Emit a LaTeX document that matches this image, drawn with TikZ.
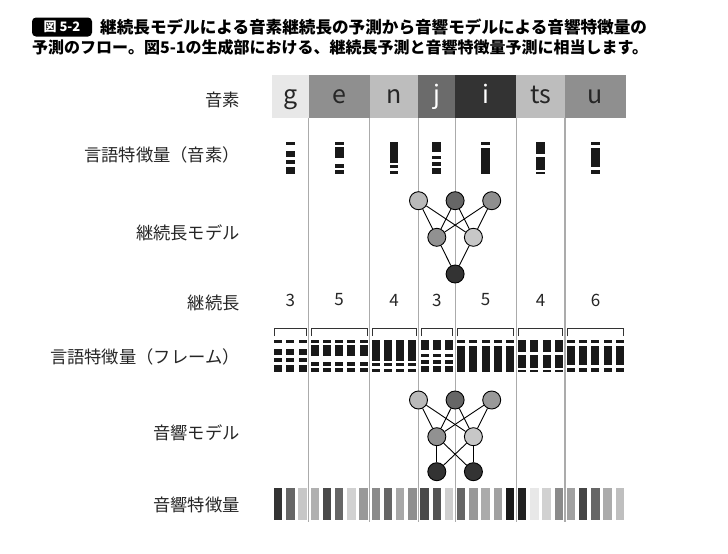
\documentclass[tikz,border=0pt]{standalone}
\usepackage{fontspec}
\setmainfont{Noto Sans CJK JP}
\begin{document}
\begin{tikzpicture}[x=1pt,y=-1pt,
  lab/.style={anchor=east,font=\fontsize{17.3}{17}\selectfont,text=black!85,inner sep=0},
  phbox/.style={draw=none,inner sep=0,minimum height=43pt,text height=14pt,text depth=0pt,font=\fontsize{25}{25}\selectfont},
  nn/.style={circle,draw=black,line width=0.9pt,minimum size=18pt,inner sep=0},
  conn/.style={line width=0.9pt,black},
  vline/.style={line width=1.1pt,color=black!33},
  bar/.style={fill=black!90},
  brk/.style={line width=0.9pt,black!80},
  num/.style={font=\fontsize{17}{17}\selectfont,text=black!85,inner sep=0}
]
\useasboundingbox[fill=white] (0,0) rectangle (728,554);
\def\W{12.2069}

% title
\node[fill=black,rounded corners=4pt,text=white,font=\bfseries\fontsize{13}{13}\selectfont,minimum width=60pt,minimum height=19pt,inner sep=0] (fig) at (62,27) {図 5-2};
\node[anchor=west,font=\bfseries\fontsize{16.6}{16}\selectfont,inner sep=0] (t1) at (100,27) {継続長モデルによる音素継続長の予測から音響モデルによる音響特徴量の};
\node[anchor=west,font=\bfseries\fontsize{16}{16}\selectfont,inner sep=0] (t2) at (32,47) {予測のフロー。図5-1の生成部における、継続長予測と音響特徴量予測に相当します。};

% row labels
\node[lab] (l1) at (240,100) {音素};
\node[lab] (l2) at (240,155) {言語特徴量（音素）};
\node[lab] (l3) at (240,233) {継続長モデル};
\node[lab] (l4) at (240,303) {継続長};
\node[lab] (l5) at (240,357) {言語特徴量（フレーム）};
\node[lab] (l6) at (240,433) {音響モデル};
\node[lab] (l7) at (240,505) {音響特徴量};

% vertical separators
\foreach \k in {3,8,12,15,20,24}
  \draw[vline] ({272+\k*\W},118) -- ({272+\k*\W},522);

% phoneme boxes
\foreach \nm/\a/\b/\fc/\tc/\tx in {g/0/3/black!9/black!85/g, e/3/8/black!44/black!85/e, n/8/12/black!26/black!85/n, j/12/15/black!58/white/j, i/15/20/black!80/white/i, ts/20/24/black!26/black!85/ts, u/24/29/black!44/black!85/u}
  \node[phbox,fill=\fc,text=\tc,minimum width={(\b-\a)*\W*1pt}] (p\nm) at ({272+(\a+\b)/2*\W},96.5) {\tx};

% durations
\foreach \nm/\a/\b/\d in {g/0/3/3, e/3/8/5, n/8/12/4, j/12/15/3, i/15/20/5, ts/20/24/4, u/24/29/6}
  \node[num] (d\nm) at ({272+(\a+\b)/2*\W},300) {\d};

% linguistic features (phoneme) and (frame), brackets
\foreach \a/\b/\segs in {0/3/{0/2.5,9/15,18/22.3,25/32}, 3/8/{0/2.5,4.7/16.3,22.3/25.7,28/32}, 8/12/{0/21,23/26.3,29/32}, 12/15/{0/10,13.7/17,20.3/23.7,26.3/32}, 15/20/{0/3.2,6.3/32}, 20/24/{0/12,14.7/28,29.7/32}, 24/29/{0/3.2,6.3/24.7,28/32}} {
  \pgfmathsetmacro\cx{272+(\a+\b)/2*\W}
  \foreach \sa/\sb in \segs {
    \fill[bar] ({\cx-4.4},{142+\sa}) rectangle ({\cx+4.4},{142+\sb});
  }
  \pgfmathtruncatemacro\bl{\b-1}
  \foreach \k in {\a,...,\bl} {
    \pgfmathsetmacro\fx{272+(\k+0.5)*\W}
    \foreach \sa/\sb in \segs {
      \fill[bar] ({\fx-4},{340+\sa}) rectangle ({\fx+4},{340+\sb});
    }
  }
  \draw[brk] ({272+\a*\W+2.5},336) -- ++(0,-8) -- ({272+\b*\W-2.5},328) -- ++(0,8);
}

% duration model
\node[nn,fill=black!27] (d1) at (418.5,200.7) {};
\node[nn,fill=black!60] (d2) at (455.1,200.7) {};
\node[nn,fill=black!44] (d3) at (491.7,200.7) {};
\node[nn,fill=black!43] (d4) at (436.8,237.3) {};
\node[nn,fill=black!22] (d5) at (473.4,237.3) {};
\node[nn,fill=black!80] (d6) at (455.1,274) {};
\foreach \u in {d1,d2,d3} \foreach \v in {d4,d5} \draw[conn] (\u) -- (\v);
\foreach \u in {d4,d5} \draw[conn] (\u) -- (d6);

% acoustic model
\node[nn,fill=black!27] (a1) at (418.5,400) {};
\node[nn,fill=black!60] (a2) at (455.1,400) {};
\node[nn,fill=black!40] (a3) at (491.7,400) {};
\node[nn,fill=black!43] (a4) at (436.8,436.7) {};
\node[nn,fill=black!22] (a5) at (473.4,436.7) {};
\node[nn,fill=black!80] (a6) at (436.8,471.7) {};
\node[nn,fill=black!80] (a7) at (473.4,471.7) {};
\foreach \u in {a1,a2,a3} \foreach \v in {a4,a5} \draw[conn] (\u) -- (\v);
\foreach \u in {a4,a5} \foreach \v in {a6,a7} \draw[conn] (\u) -- (\v);

% acoustic features
\foreach \c [count=\k from 0] in {80,60,22,31,71,60,18,40,46,60,34,44,71,67,19,60,40,33,37,90,87,9,18,46,37,73,60,33,25}
  \fill[black!\c] ({272+(\k+0.5)*\W-4.2},488) rectangle ({272+(\k+0.5)*\W+4.2},520);
\end{tikzpicture}
\end{document}
